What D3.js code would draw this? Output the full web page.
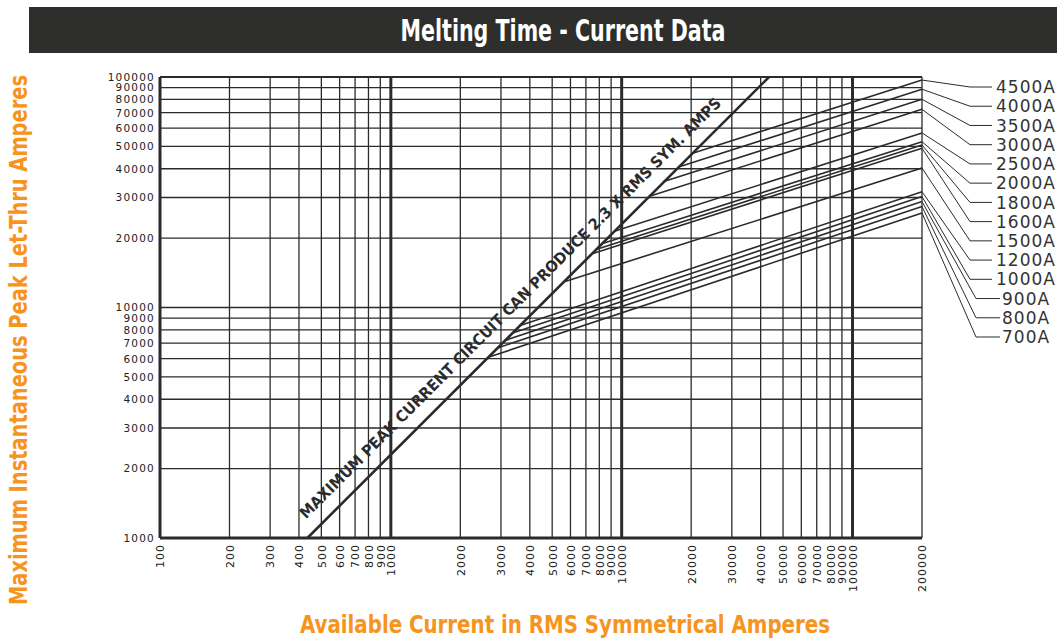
<!DOCTYPE html>
<html>
<head>
<meta charset="utf-8">
<script src="https://cdn.jsdelivr.net/npm/d3@7"></script>
<style>
  body { margin: 0; background: #fff; }
</style>
</head>
<body>
<div id="chart"></div>
<script>
// Tick values on both log axes
var xTicks = [100, 200, 300, 400, 500, 600, 700, 800, 900, 1000,
  2000, 3000, 4000, 5000, 6000, 7000, 8000, 9000, 10000,
  20000, 30000, 40000, 50000, 60000, 70000, 80000, 90000, 100000, 200000];
var yTicks = [1000, 2000, 3000, 4000, 5000, 6000, 7000, 8000, 9000, 10000,
  20000, 30000, 40000, 50000, 60000, 70000, 80000, 90000, 100000];

// Fuse ratings and their let-thru lines (start on the max peak line, end at 200000 A)
var fuseRatings = ["4500A", "4000A", "3500A", "3000A", "2500A", "2000A", "1800A",
  "1600A", "1500A", "1200A", "1000A", "900A", "800A", "700A"];
var startRms = [20000, 17500, 15100, 13100, 9300, 8200, 7800, 7450, 5600, 3630, 3370, 3130, 2900, 2640];
var startPeak = [46500, 40600, 35100, 30300, 21400, 18900, 17900, 17100, 12900, 8350, 7750, 7200, 6680, 6080];
var endRms = 200000;
var endPeak = [97000, 88500, 80000, 72400, 57200, 52400, 50700, 49100, 40300, 31800, 30300, 28800, 27400, 25700];

// Maximum peak current line (2.3 x RMS symmetrical amps)
var maxRms = [435, 43480];
var maxPeak = [1000, 100000];

var svgWidth = 1057;
var svgHeight = 639;

var svg = d3.select("#chart")
  .append("svg")
  .attr("width", svgWidth)
  .attr("height", svgHeight)
  .style("font-family", "'DejaVu Sans', Verdana, sans-serif");

var xScale = d3.scaleLog().domain([100, 200000]).range([160, 922]);
var yScale = d3.scaleLog().domain([1000, 100000]).range([538, 77]);

var ink = "#2b2b2b";
var orange = "#f7941d";
var narrow = "'Liberation Sans Narrow', 'DejaVu Sans Condensed', 'Roboto', sans-serif";

// Title bar
svg.append("rect")
  .attr("x", 29).attr("y", 7)
  .attr("width", 1028).attr("height", 46)
  .attr("fill", "#2e2f2c");

svg.append("text")
  .attr("x", 563).attr("y", 41)
  .attr("text-anchor", "middle")
  .attr("fill", "#fff")
  .attr("font-family", narrow)
  .attr("font-weight", "bold")
  .attr("font-size", 31)
  .attr("textLength", 325)
  .attr("lengthAdjust", "spacingAndGlyphs")
  .text("Melting Time - Current Data");

// Grid
var grid = svg.append("g");

grid.selectAll("line.v")
  .data(xTicks)
  .enter()
  .append("line")
  .attr("class", "v")
  .attr("x1", d => xScale(d))
  .attr("x2", d => xScale(d))
  .attr("y1", yScale(1000))
  .attr("y2", yScale(100000))
  .attr("stroke", ink)
  .attr("stroke-width", d => (d === 100 || d === 1000 || d === 10000 || d === 100000) ? 3 : 1.3);

grid.selectAll("line.h")
  .data(yTicks)
  .enter()
  .append("line")
  .attr("class", "h")
  .attr("x1", xScale(100))
  .attr("x2", xScale(200000))
  .attr("y1", d => yScale(d))
  .attr("y2", d => yScale(d))
  .attr("stroke", ink)
  .attr("stroke-width", d => d === 1000 ? 3 : (d === 100000 ? 2.2 : 1.3));

// Axis tick labels
var bottomAxis = d3.axisBottom(xScale).tickValues(xTicks).tickSize(0).tickFormat(d3.format("d"));
var leftAxis = d3.axisLeft(yScale).tickValues(yTicks).tickSize(0).tickFormat(d3.format("d"));

var xAxisG = svg.append("g")
  .attr("transform", `translate(0,${yScale(1000)})`)
  .call(bottomAxis);
xAxisG.select(".domain").remove();
xAxisG.selectAll("text")
  .attr("transform", "rotate(-90)")
  .attr("x", -6)
  .attr("y", 0)
  .attr("dy", "0.35em")
  .attr("text-anchor", "end")
  .attr("fill", "#222")
  .attr("font-size", 11)
  .attr("letter-spacing", 1)
  .attr("font-family", "'DejaVu Sans', Verdana, sans-serif");

var yAxisG = svg.append("g")
  .attr("transform", `translate(${xScale(100) - 5},0)`)
  .call(leftAxis);
yAxisG.select(".domain").remove();
yAxisG.selectAll("text")
  .attr("x", 0)
  .attr("fill", "#222")
  .attr("font-size", 10.5)
  .attr("letter-spacing", 1.2)
  .attr("font-family", "'DejaVu Sans', Verdana, sans-serif");

// Fuse let-thru lines
var fuses = fuseRatings.map(function(name, i) {
  return { name: name, pts: [[startRms[i], startPeak[i]], [endRms, endPeak[i]]] };
});

var line = d3.line()
  .x(d => xScale(d[0]))
  .y(d => yScale(d[1]));

svg.append("g")
  .selectAll("path")
  .data(fuses)
  .enter()
  .append("path")
  .attr("d", d => line(d.pts))
  .attr("fill", "none")
  .attr("stroke", ink)
  .attr("stroke-width", 1.6);

// Max peak line
var maxPts = maxRms.map((d, i) => [d, maxPeak[i]]);
svg.append("path")
  .attr("d", line(maxPts))
  .attr("fill", "none")
  .attr("stroke", ink)
  .attr("stroke-width", 2.6);

// Label along the max peak line, offset up-left of it
var p0 = [xScale(maxRms[0]), yScale(maxPeak[0])];
var p1 = [xScale(maxRms[1]), yScale(maxPeak[1])];
var len = Math.hypot(p1[0] - p0[0], p1[1] - p0[1]);
var ux = (p1[0] - p0[0]) / len, uy = (p1[1] - p0[1]) / len;
var nx = uy, ny = -ux;
if (nx > 0) { nx = -nx; ny = -ny; }
var angle = Math.atan2(uy, ux) * 180 / Math.PI;
var tx = p0[0] + ux * 12 + nx * 14;
var ty = p0[1] + uy * 12 + ny * 14;

svg.append("text")
  .attr("transform", `translate(${tx},${ty}) rotate(${angle})`)
  .attr("font-size", 15.5)
  .attr("font-weight", "bold")
  .attr("fill", ink)
  .attr("font-family", "'DejaVu Sans', sans-serif")
  .attr("textLength", 588)
  .attr("lengthAdjust", "spacingAndGlyphs")
  .text("MAXIMUM PEAK CURRENT CIRCUIT CAN PRODUCE 2.3 X RMS SYM. AMPS");

// Legend with leader lines
var legendY = d3.scaleLinear().domain([0, fuseRatings.length - 1]).range([87, 337]);

var legend = svg.append("g")
  .selectAll("g")
  .data(fuses)
  .enter()
  .append("g");

legend.append("polyline")
  .attr("points", function(d, i) {
    var short = d.name.length < 5;
    var kx = short ? 976 : 970;
    var ex = short ? 1000 : 992;
    return [[xScale(endRms), yScale(endPeak[i])], [kx, legendY(i)], [ex, legendY(i)]].join(" ");
  })
  .attr("fill", "none")
  .attr("stroke", ink)
  .attr("stroke-width", 1);

legend.append("text")
  .attr("x", d => d.name.length < 5 ? 1002 : 996)
  .attr("y", (d, i) => legendY(i))
  .attr("dy", "0.36em")
  .attr("font-size", 17)
  .attr("letter-spacing", 1)
  .attr("fill", "#333")
  .text(d => d.name);

// Axis titles
svg.append("text")
  .attr("x", 565).attr("y", 633)
  .attr("text-anchor", "middle")
  .attr("fill", orange)
  .attr("font-family", narrow)
  .attr("font-weight", "bold")
  .attr("font-size", 24)
  .attr("textLength", 530)
  .attr("lengthAdjust", "spacingAndGlyphs")
  .text("Available Current in RMS Symmetrical Amperes");

svg.append("text")
  .attr("transform", "translate(27,340) rotate(-90)")
  .attr("text-anchor", "middle")
  .attr("fill", orange)
  .attr("font-family", narrow)
  .attr("font-weight", "bold")
  .attr("font-size", 24)
  .attr("textLength", 530)
  .attr("lengthAdjust", "spacingAndGlyphs")
  .text("Maximum Instantaneous Peak Let-Thru Amperes");
</script>
</body>
</html>
